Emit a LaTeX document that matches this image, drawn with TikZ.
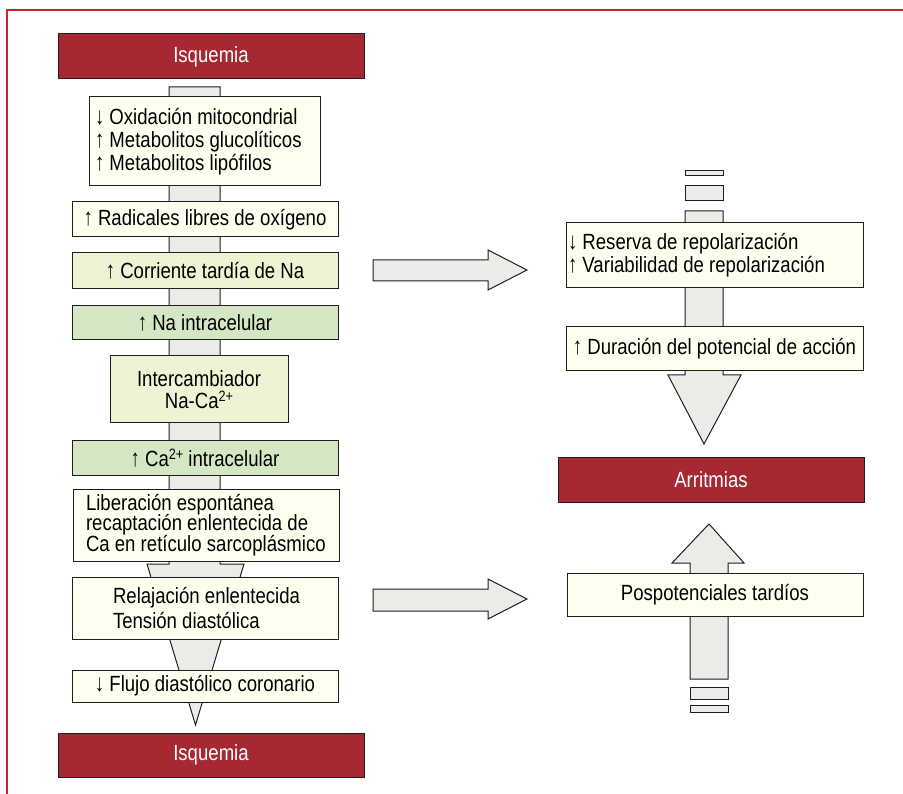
\documentclass[tikz,border=0pt]{standalone}
\usepackage{fontspec}
\setmainfont{Liberation Sans}[FakeStretch=0.845]
\definecolor{isqred}{RGB}{165,40,51}
\definecolor{framered}{RGB}{193,39,45}
\definecolor{creamc}{RGB}{255,255,240}
\definecolor{greenA}{RGB}{238,243,211}
\definecolor{greenB}{RGB}{212,231,196}
\definecolor{shaftc}{RGB}{236,235,231}
\definecolor{bord}{RGB}{30,30,30}
\newcommand{\supr}[1]{\raisebox{7pt}{\fontsize{15}{15}\selectfont #1}}
\newcommand{\upar}{\scalebox{1}[1.1]{↑}}
\newcommand{\dnar}{\scalebox{1}[1.1]{↓}}
\newcommand{\lines}[2]{\makebox[#1][l]{\vbox{\lineskiplimit=-100pt \lineskip=0pt #2}}}
\begin{document}
\begin{tikzpicture}[x=1pt,y=-1pt,
  box/.style={draw=bord, line width=1pt, inner sep=0pt, font={\fontsize{22}{23}\selectfont}},
  redbox/.style={box, fill=isqred, text=white},
  creambox/.style={box, fill=creamc},
  greenone/.style={box, fill=greenA},
  greentwo/.style={box, fill=greenB},
  shaftst/.style={draw=bord, line width=1pt, fill=shaftc, line join=miter}]
\useasboundingbox (0,0) rectangle (903,794);
% frame
\draw[framered, line width=1.3pt] (7,794) -- (7,10) -- (903,10);

% left main arrow
\draw[shaftst] (169,87) -- (169,564) -- (147,564) -- (195.5,725) -- (244,564) -- (220,564) -- (220,87) -- cycle;

% right down arrow
\draw[shaftst] (685,171) rectangle (723,176);
\draw[shaftst] (685,186) rectangle (723,201);
\draw[shaftst] (685,211) -- (685,375) -- (668,375) -- (704,444) -- (741,375) -- (723,375) -- (723,211) -- cycle;

% right up arrow
\draw[shaftst] (690,679) -- (690,563) -- (672,563) -- (709,524) -- (744,563) -- (728,563) -- (728,679) -- cycle;
\draw[shaftst] (690,687) rectangle (728,699);
\draw[shaftst] (690,705) rectangle (728,712);

% horizontal arrows
\draw[shaftst] (373,260) -- (488,260) -- (488,250) -- (527,270) -- (488,290) -- (488,281) -- (373,281) -- cycle;
\draw[shaftst] (373,589) -- (488,589) -- (488,579) -- (527,599) -- (488,619) -- (488,611) -- (373,611) -- cycle;

% left column boxes
\node[redbox, minimum width=306, minimum height=45] (isq1) at (211,56.5) {Isquemia};
\node[creambox, minimum width=231, minimum height=89, inner xsep=6] (oxi) at (204.5,141.5)
  {\raisebox{-1.5pt}{\lines{219pt}{\hbox{\dnar\ Oxidación mitocondrial}\hbox{\upar\ Metabolitos glucolíticos}\hbox{\upar\ Metabolitos lipófilos}}}};
\node[creambox, minimum width=266, minimum height=35] (rad) at (205,219.5) {\upar\ Radicales libres de oxígeno};
\node[greenone, minimum width=266, minimum height=36] (cor) at (205,271) {\upar\ Corriente tardía de Na};
\node[greentwo, minimum width=266, minimum height=34] (na) at (205,323) {\upar\ Na intracelular};
\node[greenone, minimum width=178, minimum height=67, font={\fontsize{22}{22}\selectfont}] (int) at (199,389.5)
  {\vbox{\lineskiplimit=-100pt \lineskip=0pt \hbox to 160pt{\hfil Intercambiador\hfil}\hbox to 160pt{\hfil Na-Ca\supr{2+}\hfil}}};
\node[greentwo, minimum width=266, minimum height=34] (ca) at (205,458) {\upar\ Ca\supr{2+} intracelular};
\node[creambox, minimum width=266, minimum height=72, inner xsep=13, font={\fontsize{22}{20.5}\selectfont}] (lib) at (206,525)
  {\lines{240pt}{\hbox{Liberación espontánea}\hbox{recaptación enlentecida de}\hbox{Ca en retículo sarcoplásmico}}};
\node[creambox, minimum width=266, minimum height=62, inner xsep=41, font={\fontsize{22}{25}\selectfont}] (rel) at (205,608)
  {\lines{184pt}{\hbox{Relajación enlentecida}\hbox{Tensión diastólica}}};
\node[creambox, minimum width=266, minimum height=32] (flu) at (205,686) {\dnar\ Flujo diastólico coronario};
\node[redbox, minimum width=306, minimum height=44] (isq2) at (211,755) {Isquemia};

% right column boxes
\node[creambox, minimum width=297, minimum height=65, inner xsep=2] (rep) at (714.5,255.5)
  {\lines{293pt}{\hbox{\dnar\ Reserva de repolarización}\hbox{\upar\ Variabilidad de repolarización}}};
\node[creambox, minimum width=297, minimum height=44] (dur) at (714.5,349) {\upar\ Duración del potencial de acción};
\node[redbox, minimum width=306, minimum height=45] (arr) at (711,479.5) {Arritmias};
\node[creambox, minimum width=296, minimum height=43] (pos) at (715,594.5) {Pospotenciales tardíos};
\end{tikzpicture}
\end{document}
